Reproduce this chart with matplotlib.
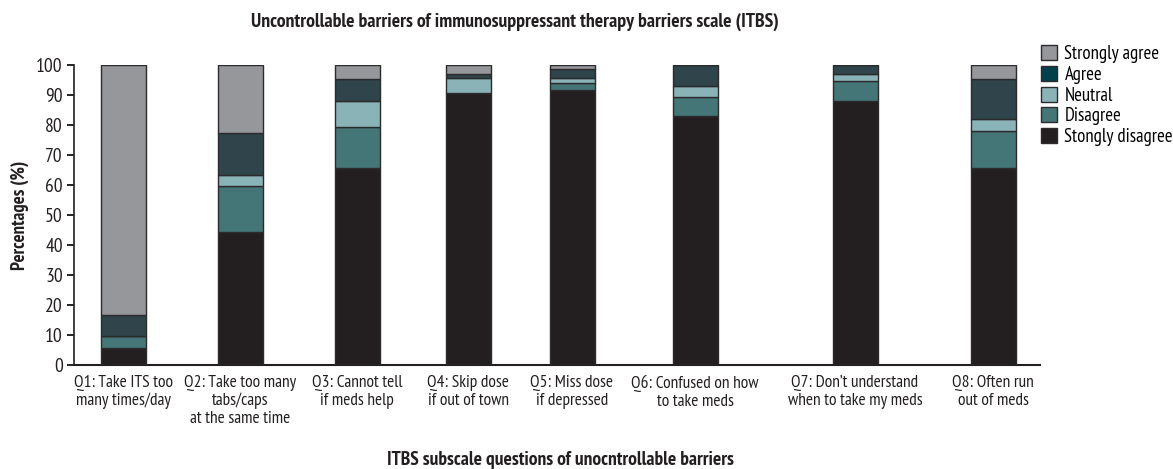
import matplotlib
matplotlib.use("Agg")
import matplotlib.pyplot as plt
from matplotlib import font_manager as fm
from matplotlib.patches import Patch
import numpy as np

# pick a condensed sans close to the original (Myriad Condensed)
have = set(f.name for f in fm.fontManager.ttflist)
font = 'DejaVu Sans'
for cand in ['PT Sans Narrow', 'Fira Sans Condensed', 'Roboto Condensed',
             'Open Sans Condensed', 'IBM Plex Sans Condensed', 'Liberation Sans Narrow']:
    if cand in have:
        font = cand
        break
plt.rcParams['font.family'] = [font, 'DejaVu Sans']

# data (percentages)
questions = ["Q1: Take ITS too\nmany times/day",
             "Q2: Take too many\ntabs/caps\nat the same time",
             "Q3: Cannot tell\nif meds help",
             "Q4: Skip dose\nif out of town",
             "Q5: Miss dose\nif depressed",
             "Q6: Confused on how\nto take meds",
             "Q7: Don\u2019t understand\nwhen to take my meds",
             "Q8: Often run\nout of meds"]
strongly_disagree = [5.8, 44.2, 65.6, 90.8, 91.7, 83.1, 88.0, 65.6]
disagree = [3.8, 15.4, 13.6, 0.0, 2.2, 6.1, 6.7, 12.3]
neutral = [0.0, 3.7, 8.8, 4.8, 1.9, 3.9, 2.2, 4.2]
agree = [7.2, 14.0, 7.3, 1.4, 2.8, 6.9, 3.1, 13.1]
strongly_agree = [83.2, 22.7, 4.7, 3.0, 1.4, 0.0, 0.0, 4.8]

series = [("Stongly disagree", strongly_disagree, "#231f20", "#231f20"),
          ("Disagree", disagree, "#457677", "#457677"),
          ("Neutral", neutral, "#8ab3b8", "#8ab3b8"),
          ("Agree", agree, "#2f444b", "#01414b"),
          ("Strongly agree", strongly_agree, "#96979b", "#96979b")]

# layout: uneven bar centres as in the original figure
xpos = [123, 240, 357, 468, 572, 695, 855, 993]
bar_w = 45

fig = plt.figure(figsize=(11.73, 4.69), dpi=100)
ax = fig.add_axes([74/1173, 1-365/469, (1040-74)/1173, 300/469])

bottom = np.zeros(len(xpos))
for name, vals, col, lcol in series:
    vals = np.array(vals)
    ax.bar(xpos, vals, width=bar_w, bottom=bottom, color=col,
           edgecolor="#2b2b2b", linewidth=1.0, zorder=3)
    bottom += vals

ax.set_xlim(74, 1040)
ax.set_ylim(0, 100)
ax.set_yticks(np.arange(0, 101, 10))
ax.set_xticks(xpos)
ax.set_xticklabels(questions, fontsize=12.5, linespacing=1.15, color="#231f20")
ax.tick_params(axis='x', length=0, pad=7)
ax.tick_params(axis='y', length=5, width=1.2, labelsize=14, pad=3, labelcolor="#231f20")
for s in ['top', 'right']:
    ax.spines[s].set_visible(False)
ax.spines['left'].set_linewidth(1.2)
ax.spines['bottom'].set_linewidth(1.5)
ax.spines['left'].set_color("#231f20")
ax.spines['bottom'].set_color("#231f20")

ax.set_ylabel("Percentages (%)", fontsize=13.5, fontweight='bold', labelpad=5, color="#231f20")
fig.text(560/1173, 1-460/469, "ITBS subscale questions of unocntrollable barriers",
         ha='center', va='center', fontsize=14, fontweight='bold', color="#231f20")
fig.text(515/1173, 1-22/469,
         "Uncontrollable barriers of immunosuppressant therapy barriers scale (ITBS)",
         ha='center', va='center', fontsize=14.2, fontweight='bold', color="#231f20")

handles = [Patch(facecolor=lcol, edgecolor="#2b2b2b", linewidth=1.0, label=name)
           for name, vals, col, lcol in series[::-1]]
ax.legend(handles=handles, loc='upper left', bbox_to_anchor=(1041/1173, 1-45/469),
          bbox_transform=fig.transFigure, frameon=False, fontsize=13.5,
          handlelength=0.85, handleheight=0.85, handletextpad=0.4, labelspacing=0.15,
          borderaxespad=0, borderpad=0)

fig.savefig("out.png", dpi=100)
